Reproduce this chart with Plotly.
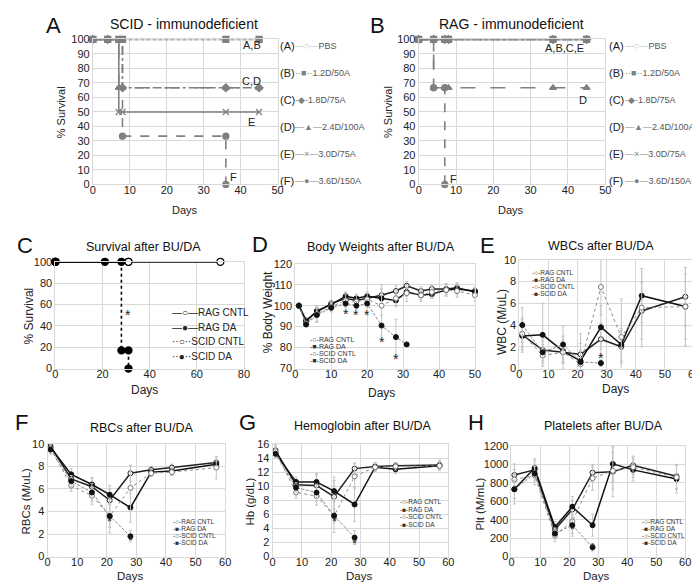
import plotly.graph_objects as go

W, H = 700, 582

# ====================== DATA ======================
# Panel A: SCID - immunodeficient (% survival)
scid_a_days = [0, 4, 7, 8, 36, 45]
scid_a_surv = [100, 100, 100, 100, 100, 100]
scid_b_days = [0, 4, 7, 8, 36, 45]
scid_b_surv = [100, 100, 100, 100, 100, 100]
scid_c_days = [0, 4, 8, 36, 45]
scid_c_surv = [100, 100, 66.7, 66.7, 66.7]
scid_d_days = [0, 4, 7, 8, 36, 45]
scid_d_surv = [100, 100, 66.7, 66.7, 66.7, 66.7]
scid_e_days = [0, 4, 7, 8, 36, 45]
scid_e_surv = [100, 100, 50, 50, 50, 50]
scid_f_days = [0, 4, 8, 36, 36]
scid_f_surv = [100, 100, 33.3, 33.3, 0]

# Panel B: RAG - immunodeficient (% survival)
rag_a_days = [0, 4, 7, 8, 36, 45]
rag_a_surv = [100, 100, 100, 100, 100, 100]
rag_b_days = [0, 4, 7, 8, 36, 45]
rag_b_surv = [100, 100, 100, 100, 100, 100]
rag_c_days = [0, 4, 7, 8, 36, 45]
rag_c_surv = [100, 100, 100, 100, 100, 100]
rag_d_days = [0, 4, 7, 8, 36, 45]
rag_d_surv = [100, 66.7, 66.7, 66.7, 66.7, 66.7]
rag_e_days = [0, 4, 7, 8, 36, 45]
rag_e_surv = [100, 100, 100, 100, 100, 100]
rag_f_days = [0, 4, 7, 7]
rag_f_surv = [100, 66.7, 66.7, 0]

group_letters = ["(A)", "(B)", "(C)", "(D)", "(E)", "(F)"]
group_names = ["PBS", "1.2D/50A", "1.8D/75A", "2.4D/100A", "3.0D/75A", "3.6D/150A"]
scid_labels = [("A,B", 43, 96), ("C,D", 43, 71.5), ("E", 43, 43), ("F", 38, 5)]
rag_labels = [("A,B,C,E", 39, 94), ("D", 44, 58.5), ("F", 9.4, 4)]

# Panel C: Survival after BU/DA
c_rag_cntl_days = [0, 31, 70]
c_rag_cntl_surv = [100, 100, 100]
c_rag_da_days = [0, 21, 28]
c_rag_da_surv = [100, 100, 100]
c_scid_cntl_days = [0, 31]
c_scid_cntl_surv = [100, 100]
c_scid_da_days = [0, 28, 31, 31]
c_scid_da_surv = [100, 17, 17, 0]
c_star_x = [31]
c_star_y = [50]

# Panel D: Body weights (% body weight)
bw_days = [1, 3, 6, 10, 14, 17, 20, 24, 28, 31, 35, 38, 42, 45, 50]
bw_scid_da_days = [1, 3, 6, 10, 14, 17, 20, 24, 28, 31]
bw_rag_cntl = [100, 93, 97, 101, 103.5, 102.5, 103.5, 105, 107, 109.5, 107, 108, 108, 108.5, 106.5]
bw_rag_da = [100, 92.5, 97.5, 100.5, 104.5, 103.5, 104.5, 103.5, 102.5, 106.5, 105, 105.5, 107.5, 108, 107]
bw_scid_cntl = [100, 91.5, 96, 99.5, 102.5, 102, 103, 100, 103.5, 106, 105, 106.5, 107.5, 107, 105]
bw_scid_da = [100, 91, 95.5, 99, 101, 100, 101, 90.5, 85, 81.5]
bw_rag_cntl_err = [0, 1, 2, 1.5, 2, 2, 2, 3, 2.5, 2, 2, 2, 2.5, 2.5, 2]
bw_rag_da_err = [0, 1, 2, 1.5, 2, 2, 2, 3, 2.5, 2, 2, 2, 2.5, 2.5, 2]
bw_scid_cntl_err = [0, 1, 4, 2, 3, 3, 3, 10, 4, 4, 3, 3, 3, 3, 3]
bw_scid_da_err = [0, 1, 3, 2, 2, 2, 2, 5, 8.5, 0]
bw_star_x = [14, 17, 20, 24, 28]
bw_star_y = [96, 95.5, 95.5, 82.5, 74.5]

# Blood counts sampling days
blood_days = [1, 8, 15, 21, 28, 35, 42, 57]
blood_scid_da_days = [1, 8, 15, 21, 28]

# Panel E: WBC (M/uL)
wbc_rag_cntl = [3.1, 1.7, 1.5, 1.3, 2.7, 2.0, 5.3, 6.6]
wbc_rag_da = [3.0, 3.1, 1.6, 0.7, 3.8, 2.2, 6.7, 5.7]
wbc_scid_cntl = [3.2, 1.2, 1.5, 0.4, 7.5, 2.9, 5.6, 5.7]
wbc_scid_da = [4.0, 1.5, 2.2, 0.6, 0.5]
wbc_rag_cntl_err = [1.2, 1.0, 1.0, 1.0, 1.5, 1.5, 2.6, 2.7]
wbc_rag_da_err = [1.5, 2.9, 1.0, 1.0, 2.0, 1.5, 2.5, 3.0]
wbc_scid_cntl_err = [1.5, 1.0, 1.5, 2.8, 2.6, 3.5, 3.6, 3.6]
wbc_scid_da_err = [1.6, 1.0, 1.7, 1.0, 0.3]
wbc_star_x = [28]
wbc_star_y = [1.0]

# Panel F: RBCs (M/uL)
rbc_rag_cntl = [9.8, 6.9, 6.2, 5.0, 7.4, 7.7, 7.9, 8.35]
rbc_rag_da = [9.7, 7.3, 6.4, 5.5, 4.35, 7.5, 7.6, 8.2]
rbc_scid_cntl = [9.6, 6.3, 5.4, 3.6, 6.1, 7.4, 7.5, 7.9]
rbc_scid_da = [9.5, 6.7, 5.7, 3.6, 1.8]
rbc_rag_cntl_err = [0.5, 0.5, 0.8, 1.0, 0.7, 0.3, 0.3, 0.5]
rbc_rag_da_err = [0.4, 0.5, 0.6, 0.8, 1.3, 0.3, 0.3, 0.4]
rbc_scid_cntl_err = [0.5, 0.5, 0.8, 1.5, 2.0, 0.3, 0.3, 1.0]
rbc_scid_da_err = [0.4, 0.5, 0.8, 1.0, 0.5]
rbc_star_x = [21, 28]
rbc_star_y = [3.1, 1.4]

# Panel G: Hemoglobin (g/dL)
hb_rag_cntl = [15.1, 10.2, 10.1, 8.5, 12.5, 12.8, 12.9, 13.0]
hb_rag_da = [14.7, 10.6, 10.6, 9.3, 7.4, 12.7, 12.4, 12.9]
hb_scid_cntl = [14.9, 9.1, 8.6, 5.8, 11.4, 12.7, 12.8, 12.9]
hb_scid_da = [14.6, 9.8, 9.1, 5.8, 2.7]
hb_rag_cntl_err = [0.8, 0.8, 1.5, 2.8, 0.8, 0.6, 0.5, 0.7]
hb_rag_da_err = [0.6, 0.7, 1.2, 1.5, 2.4, 0.5, 0.6, 0.6]
hb_scid_cntl_err = [0.8, 0.8, 1.3, 2.4, 1.8, 0.6, 0.5, 0.7]
hb_scid_da_err = [0.6, 0.7, 1.2, 1.0, 1.0]
hb_star_x = [21, 28]
hb_star_y = [5.0, 1.8]

# Panel H: Platelets (M/mL)
plt_rag_cntl = [885, 940, 290, 510, 910, 920, 990, 870]
plt_rag_da = [730, 960, 320, 540, 340, 1005, 940, 840]
plt_scid_cntl = [835, 880, 230, 380, 850, 930, 970, 860]
plt_scid_da = [730, 900, 250, 340, 100]
plt_rag_cntl_err = [120, 100, 60, 100, 90, 270, 100, 130]
plt_rag_da_err = [160, 100, 60, 110, 120, 190, 120, 150]
plt_scid_cntl_err = [110, 100, 70, 130, 130, 200, 110, 130]
plt_scid_da_err = [100, 80, 60, 120, 40]
plt_star_x = [21, 28]
plt_star_y = [290, 95]

treat_names = ["RAG CNTL", "RAG DA", "SCID CNTL", "SCID DA"]

# ====================== LAYOUT HELPERS ======================
FONT = "Liberation Sans, Arial, sans-serif"
GRID = "#d9d9d9"
fig = go.Figure()
layout = dict(width=W, height=H, margin=dict(l=0, r=0, t=0, b=0),
              paper_bgcolor="white", plot_bgcolor="white", showlegend=False,
              font=dict(family=FONT, color="#222"))
annotations = []


def px_x(p):
    return p / W


def px_y(p):
    return 1 - p / H


def text_px(x, y, s, size=11, color="#222", xanchor="center", angle=0):
    annotations.append(dict(x=px_x(x), y=px_y(y), xref="paper", yref="paper", text=s,
                            showarrow=False, xanchor=xanchor, yanchor="middle", textangle=angle,
                            borderpad=0,
                            font=dict(size=size, color=color, family=FONT)))


def add_axes(i, box, xr, xd, yr, yd, xt, yt, xt_pos, yt_pos, tsize=10, title_size=11):
    x0, x1, y0, y1 = box
    xk = "xaxis" if i == 1 else f"xaxis{i}"
    yk = "yaxis" if i == 1 else f"yaxis{i}"
    common = dict(showgrid=True, gridcolor=GRID, gridwidth=1, zeroline=False,
                  showline=True, linecolor=GRID, mirror=True, ticks="",
                  tickfont=dict(size=tsize, color="#222", family=FONT))
    layout[xk] = dict(domain=[px_x(x0), px_x(x1)], range=xr, dtick=xd, tick0=0,
                      ticklabelstandoff=-5,
                      anchor=f"y{'' if i == 1 else i}", **common)
    layout[yk] = dict(domain=[px_y(y1), px_y(y0)], range=yr, dtick=yd,
                      anchor=f"x{'' if i == 1 else i}", **common)
    # axis titles
    text_px(xt_pos[0], xt_pos[1], xt, size=title_size, color="#222")
    text_px(yt_pos[0], yt_pos[1], yt, size=title_size, color="#222", angle=-90)


def ax(i):
    return ("x" if i == 1 else f"x{i}"), ("y" if i == 1 else f"y{i}")


def stars(i, xs, ys, size=14):
    xa, ya = ax(i)
    for x, y in zip(xs, ys):
        annotations.append(dict(x=x, y=y, xref=xa, yref=ya, text="*", showarrow=False,
                                borderpad=0,
                                font=dict(size=size, color="#222", family=FONT)))


# ====================== PANELS A & B ======================
GRAY = "#808080"
ab_styles = [
    dict(color="#bdbdbd", dash="solid", symbol="circle-open", glyph="—○—"),
    dict(color=GRAY, dash="dot", symbol="square", glyph="··■··"),
    dict(color=GRAY, dash="dashdot", symbol="diamond", glyph="-◆-"),
    dict(color=GRAY, dash="longdash", symbol="triangle-up", glyph="—▲—"),
    dict(color=GRAY, dash="solid", symbol="x-thin", glyph="—×—"),
    dict(color=GRAY, dash="dash", symbol="circle", glyph="—●—"),
]

scid_series = [(scid_a_days, scid_a_surv), (scid_b_days, scid_b_surv), (scid_c_days, scid_c_surv),
               (scid_d_days, scid_d_surv), (scid_e_days, scid_e_surv), (scid_f_days, scid_f_surv)]
rag_series = [(rag_a_days, rag_a_surv), (rag_b_days, rag_b_surv), (rag_c_days, rag_c_surv),
              (rag_d_days, rag_d_surv), (rag_e_days, rag_e_surv), (rag_f_days, rag_f_surv)]

add_axes(1, (83, 270, 26, 174), [0, 50], 10, [0, 100], 10, "Days", "% Survival",
         (176, 200), (51, 100), tsize=11, title_size=11)
add_axes(2, (413, 602, 26, 174), [0, 50], 10, [0, 100], 10, "Days", "% Survival",
         (507, 200), (382, 100), tsize=11, title_size=11)

for i, series, labels in [(1, scid_series, scid_labels), (2, rag_series, rag_labels)]:
    xa, ya = ax(i)
    for (d, s), st, nm in zip(series, ab_styles, group_names):
        sym = st["symbol"]
        mk = dict(symbol=sym, size=6, color=st["color"] if sym != "circle-open" else "white",
                  line=dict(color=st["color"], width=1.3))
        fig.add_trace(go.Scatter(x=d, y=s, name=nm, mode="lines+markers", xaxis=xa, yaxis=ya,
                                 cliponaxis=False,
                                 line=dict(color=st["color"], width=1.6, dash=st["dash"], shape="hv"),
                                 marker=mk))
    for t, x, y in labels:
        annotations.append(dict(x=x, y=y, xref=xa, yref=ya, text=t, showarrow=False,
                                font=dict(size=11, color="#222", family=FONT)))

# legends for A and B
for lx in (271, 605):
    for k, (lt, nm, st) in enumerate(zip(group_letters, group_names, ab_styles)):
        yy = 33 + k * 27.6
        text_px(lx, yy, lt, size=11, xanchor="left")
        text_px(lx + 16, yy, f"<span style='color:{st['color']}'>{st['glyph']}</span>"
                f"<span style='color:#555'>{nm}</span>", size=9, color="#555", xanchor="left")

# ====================== PANEL C ======================
add_axes(3, (45, 236, 253, 362), [0, 80], 20, [0, 100], 20, "Days", "% Survival",
         (135, 384), (18, 308), tsize=11, title_size=12)
xa, ya = ax(3)
c_styles = [
    dict(dash="solid", fill="white"), dict(dash="solid", fill="black"),
    dict(dash="dot", fill="white"), dict(dash="dot", fill="black"),
]
for (d, s), st, nm in zip([(c_rag_cntl_days, c_rag_cntl_surv), (c_rag_da_days, c_rag_da_surv),
                           (c_scid_cntl_days, c_scid_cntl_surv), (c_scid_da_days, c_scid_da_surv)],
                          c_styles, treat_names):
    fig.add_trace(go.Scatter(x=d, y=s, name=nm, mode="lines+markers", xaxis=xa, yaxis=ya,
                             cliponaxis=False,
                             line=dict(color="black", width=2 if st["dash"] == "solid" else 1.6,
                                       dash=st["dash"], shape="hv"),
                             marker=dict(symbol="circle", size=7, color=st["fill"],
                                         line=dict(color="black", width=1.3))))
stars(3, c_star_x, c_star_y)
c_glyphs = ["—○—", "—●—", "··○··", "··●··"]
for k, (g, nm) in enumerate(zip(c_glyphs, treat_names)):
    text_px(162, 305 + k * 14.8, f"{g}{nm}", size=10, xanchor="left")

# ====================== BLOOD / WEIGHT PANELS ======================
blood_styles = [
    dict(color="#222", width=1.5, dash="solid", fill="white", mline="#222"),
    dict(color="#111", width=1.5, dash="solid", fill="#111", mline="#111"),
    dict(color="#8a8a8a", width=1.0, dash="dot", fill="white", mline="#777"),
    dict(color="#8a8a8a", width=1.0, dash="3px,1.5px", fill="#111", mline="#111"),
]
small_glyphs = ["-○-", "-■-", "-○-", "-■-"]


def add_series(i, xs_list, ys_list, errs_list):
    xa, ya = ax(i)
    for xs, ys, es, st, nm in zip(xs_list, ys_list, errs_list, blood_styles, treat_names):
        fig.add_trace(go.Scatter(x=xs, y=ys, name=nm, mode="lines+markers", xaxis=xa, yaxis=ya,
                                 cliponaxis=False,
                                 line=dict(color=st["color"], width=st["width"], dash=st["dash"]),
                                 marker=dict(symbol="circle", size=5, color=st["fill"],
                                             line=dict(color=st["mline"], width=1)),
                                 error_y=dict(type="data", array=es, color="#c4c4c4",
                                              thickness=1, width=1.5)))


def small_legend(x, y0, step, size=7):
    for k, (g, nm) in enumerate(zip(small_glyphs, treat_names)):
        text_px(x, y0 + k * step, f"{g}{nm}", size=size, color="#333", xanchor="left")


# D
add_axes(4, (288, 470, 255, 362), [0, 50], 10, [70, 120], 10, "Days", "% Body Weight",
         (375, 387), (260, 305), tsize=11, title_size=12)
add_series(4, [bw_days, bw_days, bw_days, bw_scid_da_days],
           [bw_rag_cntl, bw_rag_da, bw_scid_cntl, bw_scid_da],
           [bw_rag_cntl_err, bw_rag_da_err, bw_scid_cntl_err, bw_scid_da_err])
stars(4, bw_star_x, bw_star_y)
small_legend(302, 332, 7.4, size=7)

# E
add_axes(5, (515, 692, 251, 362), [0, 60], 10, [0, 10], 2, "Days", "WBC (M/uL)",
         (612, 383), (497, 315), tsize=11, title_size=12)
add_series(5, [blood_days, blood_days, blood_days, blood_scid_da_days],
           [wbc_rag_cntl, wbc_rag_da, wbc_scid_cntl, wbc_scid_da],
           [wbc_rag_cntl_err, wbc_rag_da_err, wbc_scid_cntl_err, wbc_scid_da_err])
stars(5, wbc_star_x, wbc_star_y)
small_legend(527, 264, 7.0, size=6.5)

# F
add_axes(6, (37, 217, 439, 554), [0, 60], 10, [0, 10], 2, "Days", "RBCs (M/uL)",
         (121, 574), (15, 497), tsize=11, title_size=11.5)
add_series(6, [blood_days, blood_days, blood_days, blood_scid_da_days],
           [rbc_rag_cntl, rbc_rag_da, rbc_scid_cntl, rbc_scid_da],
           [rbc_rag_cntl_err, rbc_rag_da_err, rbc_scid_cntl_err, rbc_scid_da_err])
stars(6, rbc_star_x, rbc_star_y, size=13)
small_legend(163, 518, 7.3, size=6.5)

# G
add_axes(7, (265, 443, 439, 554), [0, 60], 10, [0, 16], 2, "Days", "Hb (g/dL)",
         (353, 574), (242, 498), tsize=11, title_size=11.5)
add_series(7, [blood_days, blood_days, blood_days, blood_scid_da_days],
           [hb_rag_cntl, hb_rag_da, hb_scid_cntl, hb_scid_da],
           [hb_rag_cntl_err, hb_rag_da_err, hb_scid_cntl_err, hb_scid_da_err])
stars(7, hb_star_x, hb_star_y, size=13)
small_legend(393, 498, 7.6, size=6.5)

# H
add_axes(8, (507, 683, 441, 554), [0, 60], 10, [0, 1200], 200, "Days", "Plt (M/mL)",
         (593, 574), (475, 500), tsize=11, title_size=11.5)
add_series(8, [blood_days, blood_days, blood_days, blood_scid_da_days],
           [plt_rag_cntl, plt_rag_da, plt_scid_cntl, plt_scid_da],
           [plt_rag_cntl_err, plt_rag_da_err, plt_scid_cntl_err, plt_scid_da_err])
stars(8, plt_star_x, plt_star_y, size=12)
small_legend(638, 518, 7.2, size=6.5)

# ====================== TITLES & PANEL LETTERS ======================
titles = [("SCID - immunodeficient", 175, 10, 14), ("RAG - immunodeficient", 507, 10, 14),
          ("Survival after BU/DA", 134, 238, 12.5), ("Body Weights after BU/DA", 375, 238, 12.5),
          ("WBCs after BU/DA", 598, 237, 12.5), ("RBCs after BU/DA", 132, 423, 12.5),
          ("Hemoglobin after BU/DA", 357, 421, 12.5), ("Platelets after BU/DA", 600, 421, 12.5)]
for t, x, y, s in titles:
    text_px(x, y, t, size=s, color="#111")

letters = [("A", 43, 12), ("B", 371, 12), ("C", 14, 236), ("D", 252, 235), ("E", 483, 236),
           ("F", 11, 417), ("G", 240, 417), ("H", 471, 417)]
for t, x, y in letters:
    text_px(x, y, t, size=22, color="#111")

layout["annotations"] = annotations
fig.update_layout(**layout)
fig.write_html("out.html")
